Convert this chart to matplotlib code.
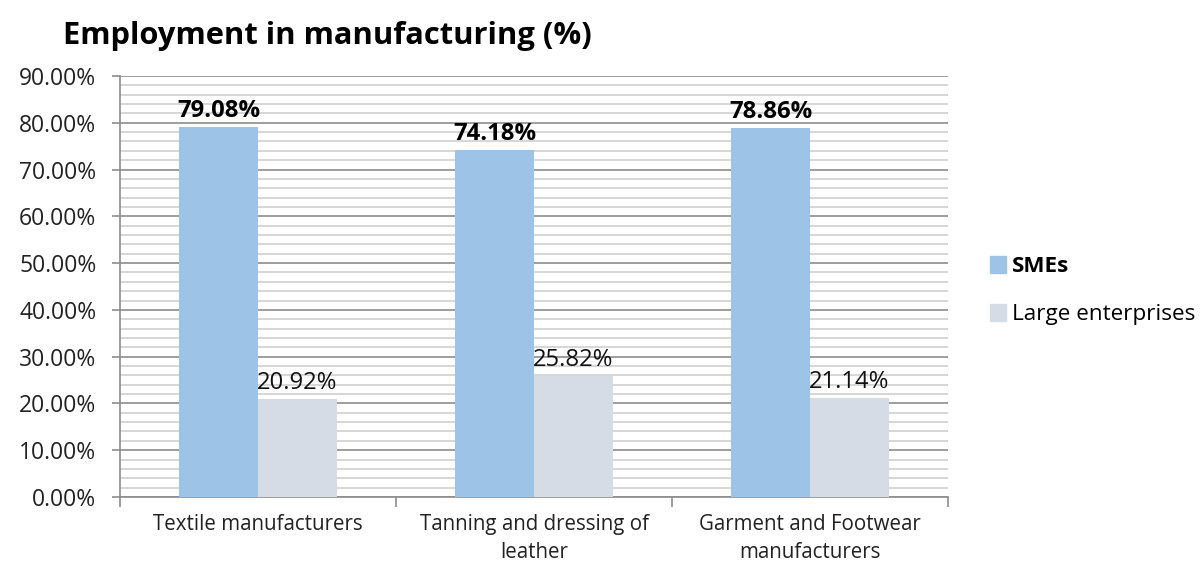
import matplotlib.pyplot as plt
from matplotlib.patches import Patch
from matplotlib.ticker import MultipleLocator, FuncFormatter
import numpy as np

plt.rcParams['font.family'] = ['Open Sans', 'DejaVu Sans']

# Данные
categories = ['Textile manufacturers', 'Tanning and dressing of\nleather',
              'Garment and Footwear\nmanufacturers']
smes = [79.08, 74.18, 78.86]
large = [20.92, 25.82, 21.14]

sme_color = '#9dc3e6'
large_color = '#d6dce5'

fig = plt.figure(figsize=(12.02, 5.67), dpi=100)
ax = fig.add_axes([0.0998, 0.1235, 0.689, 0.7425])

x = np.arange(len(categories))
w = 0.285
ax.bar(x - w / 2, smes, w, color=sme_color, zorder=3)
ax.bar(x + w / 2, large, w, color=large_color, zorder=3)

for xi, v in zip(x, smes):
    ax.text(xi - w / 2, v + 0.8, f'{v:.2f}%', ha='center', va='bottom',
            fontsize=17.2, fontweight='bold', color='black', zorder=4)
for xi, v in zip(x, large):
    ax.text(xi + w / 2, v + 0.8, f'{v:.2f}%', ha='center', va='bottom',
            fontsize=17.2, color='#111111', zorder=4)

# Оси и сетка
ax.set_xlim(-0.5, 2.5)
ax.set_ylim(0, 90)
ax.yaxis.set_major_locator(MultipleLocator(10))
ax.yaxis.set_minor_locator(MultipleLocator(2))
ax.yaxis.set_major_formatter(FuncFormatter(lambda v, p: f'{v:.2f}%'))
ax.grid(axis='y', which='major', color='#8c8c8c', lw=1.2, zorder=1)
ax.grid(axis='y', which='minor', color='#d0d0d0', lw=1.2, zorder=1)

ax.set_xticks([-0.5, 0.5, 1.5, 2.5])
ax.set_xticklabels([])
ax.set_xticks(x, minor=True)
ax.set_xticklabels(categories, minor=True, fontsize=14.8, color='#222222',
                   linespacing=1.45)
ax.tick_params(axis='x', which='major', length=7, color='#8c8c8c', width=1.2)
ax.tick_params(axis='x', which='minor', length=0, pad=12)
ax.tick_params(axis='y', which='major', length=6, color='#8c8c8c', width=1.2,
               labelsize=16.5, labelcolor='#222222', pad=11)
ax.tick_params(axis='y', which='minor', length=0)

for s in ['top', 'right']:
    ax.spines[s].set_visible(False)
for s in ['left', 'bottom']:
    ax.spines[s].set_color('#8c8c8c')
    ax.spines[s].set_linewidth(1.2)

fig.text(0.052, 0.937, 'Employment in manufacturing (%)', fontsize=22.2,
         fontweight='bold', ha='left', va='center')

handles = [Patch(color=sme_color), Patch(color=large_color)]
leg = fig.legend(handles, ['SMEs', 'Large enterprises'], loc='center left',
                 bbox_to_anchor=(0.8235, 0.487), frameon=False, fontsize=16.2,
                 handlelength=0.72, handleheight=0.72, handletextpad=0.25,
                 labelspacing=1.2, borderpad=0, borderaxespad=0)
leg.get_texts()[0].set_fontweight('bold')

fig.savefig('out.png', dpi=100)
